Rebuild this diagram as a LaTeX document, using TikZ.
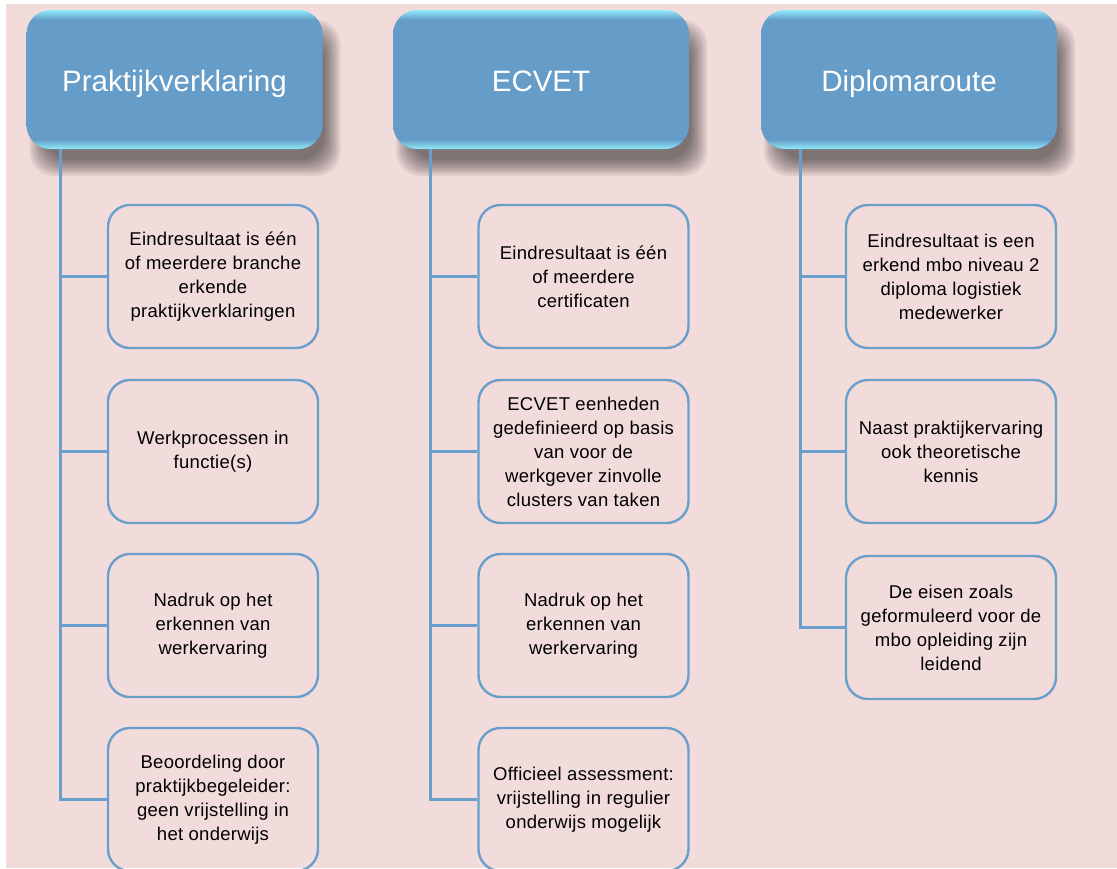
\documentclass[tikz,border=0pt]{standalone}
\usepackage{fontspec}
\setmainfont{Liberation Sans}
\definecolor{bg}{HTML}{F2DCDB}
\definecolor{hdrblue}{HTML}{659CC8}
\definecolor{hdredge}{HTML}{8EEBFA}
\definecolor{linkblue}{HTML}{6A9FCB}
\pgfdeclareverticalshading{hdrshade}{100bp}{color(0bp)=(hdredge); color(25bp)=(hdredge); color(28.5bp)=(hdrblue); color(71.5bp)=(hdrblue); color(75bp)=(hdredge); color(100bp)=(hdredge)}
\begin{document}
\begin{tikzpicture}[x=1pt,y=-1pt,
    hdr/.style={rectangle, rounded corners=24pt, minimum width=296pt, minimum height=139pt,
      shading=hdrshade, text=white, font=\fontsize{29.5}{34}\selectfont,
      text height=30pt, text depth=7pt},
    item/.style={rectangle, rounded corners=22pt, draw=linkblue, line width=2.4pt,
      minimum width=210pt, minimum height=143pt, align=center,
      font=\fontsize{18.5}{24}\selectfont\addfontfeature{LetterSpace=1.5}},
    link/.style={draw=linkblue, line width=3pt}]
  \fill[white] (0,0) rectangle (1117,868);
  \fill[bg] (6,4) rectangle (1117,868);
  \useasboundingbox (0,0) rectangle (1117,868);

  \foreach \x in {174.5,541,909}
    \foreach \i in {0,...,8}
      \fill[black, opacity=0.065, rounded corners=24pt]
        (\x-145+2*\i, 20+2*\i) rectangle (\x+166-2*\i, 176-2*\i);

  \node[hdr] (pv) at (174.5,79.5) {Praktijkverklaring};
  \node[hdr] (ec) at (541,79.5) {ECVET};
  \node[hdr] (dr) at (909,79.5) {Diplomaroute};

  \node[item] (pv1) at (213,276.5) {Eindresultaat is één\\of meerdere branche\\erkende\\praktijkverklaringen};
  \node[item] (pv2) at (213,451.5) {Werkprocessen in\\functie(s)};
  \node[item] (pv3) at (213,625.5) {Nadruk op het\\erkennen van\\werkervaring};
  \node[item] (pv4) at (213,799.5) {Beoordeling door\\praktijkbegeleider:\\geen vrijstelling in\\het onderwijs};

  \node[item] (ec1) at (583.5,276.5) {Eindresultaat is één\\of meerdere\\certificaten};
  \node[item] (ec2) at (583.5,451.5) {ECVET eenheden\\gedefinieerd op basis\\van voor de\\werkgever zinvolle\\clusters van taken};
  \node[item] (ec3) at (583.5,625.5) {Nadruk op het\\erkennen van\\werkervaring};
  \node[item] (ec4) at (583.5,799.5) {Officieel assessment:\\vrijstelling in regulier\\onderwijs mogelijk};

  \node[item] (dr1) at (951,276.5) {Eindresultaat is een\\erkend mbo niveau 2\\diploma logistiek\\medewerker};
  \node[item] (dr2) at (951,451.5) {Naast praktijkervaring\\ook theoretische\\kennis};
  \node[item] (dr3) at (951,627.5) {De eisen zoals\\geformuleerd voor de\\mbo opleiding zijn\\leidend};

  \coordinate (pvt) at (60,149);
  \coordinate (ect) at (430,149);
  \coordinate (drt) at (800,149);
  \begin{scope}[link]
    \draw (pvt) |- (pv4.west);
    \draw (pvt |- pv1.west) -- (pv1.west);
    \draw (pvt |- pv2.west) -- (pv2.west);
    \draw (pvt |- pv3.west) -- (pv3.west);
    \draw (ect) |- (ec4.west);
    \draw (ect |- ec1.west) -- (ec1.west);
    \draw (ect |- ec2.west) -- (ec2.west);
    \draw (ect |- ec3.west) -- (ec3.west);
    \draw (drt) |- (dr3.west);
    \draw (drt |- dr1.west) -- (dr1.west);
    \draw (drt |- dr2.west) -- (dr2.west);
  \end{scope}
\end{tikzpicture}
\end{document}
